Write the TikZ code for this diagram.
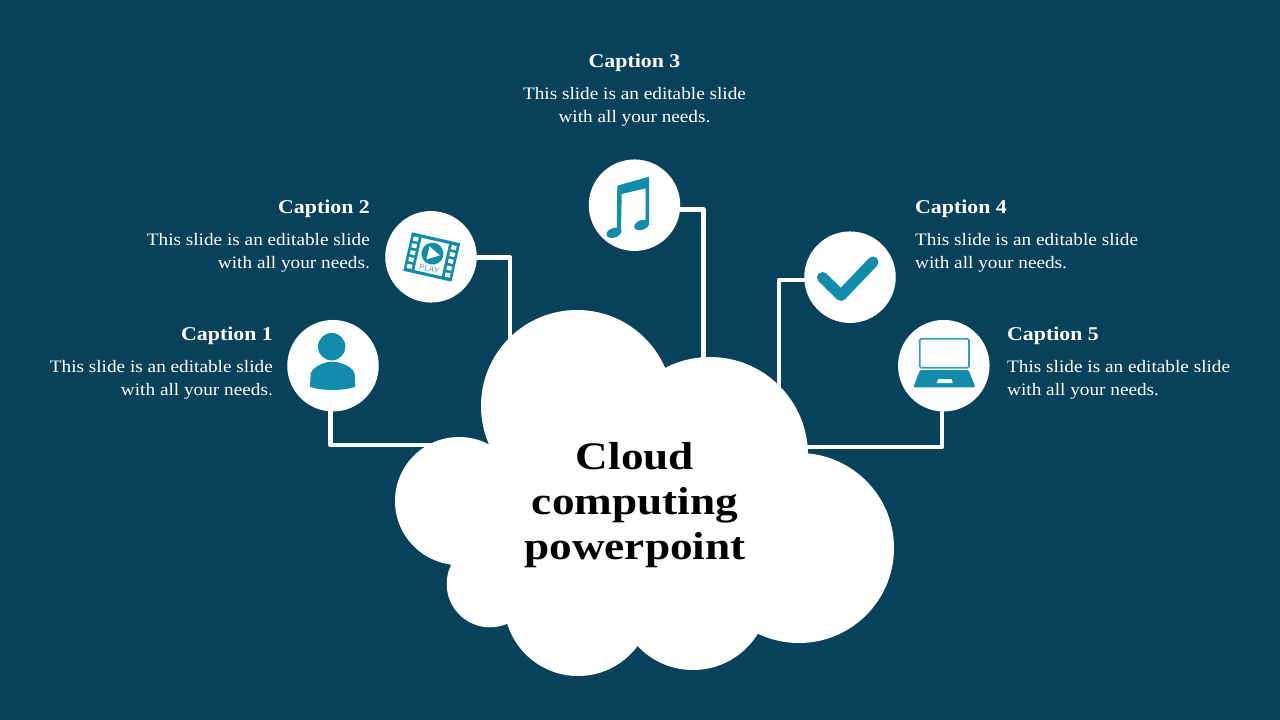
\documentclass[tikz,border=0pt]{standalone}
\usepackage{fontspec}
\setmainfont{Liberation Serif}
\newfontfamily\bodyfont[FakeStretch=1.1]{Liberation Serif}
\newfontfamily\headfont[FakeStretch=1.12]{Liberation Serif}
\newfontfamily\titlefont[FakeStretch=1.16]{Liberation Serif}
\definecolor{bgc}{HTML}{08415A}
\definecolor{icon}{HTML}{118CAB}
\tikzset{
  disc/.style={circle,fill=white,draw=none,minimum size=91.5pt,inner sep=0pt},
  wire/.style={draw=white,line width=4.5pt,line join=round},
  captionhead/.style={text=white,inner sep=0pt,font=\headfont\bfseries\fontsize{19.5}{22}\selectfont},
  captionbody/.style={text=white,inner sep=0pt,font=\bodyfont\fontsize{17.5}{22.3}\selectfont},
  puff/.style={fill=white,draw=none},
  iconfill/.style={fill=icon,draw=none},
}
\begin{document}
\begin{tikzpicture}[x=1pt,y=-1pt]
\useasboundingbox (0,0) rectangle (1280,720);
\fill[bgc] (0,0) rectangle (1280,720);
% connector ends, hidden behind the cloud
\coordinate (e1) at (445,445);
\coordinate (e2) at (510,350);
\coordinate (e3) at (703.3,370);
\coordinate (e4) at (779,395);
\coordinate (e5) at (800,447);
\coordinate (k1) at (330.7,445);
\coordinate (k2) at (510,257.5);
\coordinate (k3) at (703.3,209.5);
\coordinate (k4) at (779,280);
\coordinate (k5) at (942,447);
\coordinate (s1) at (330.7,365.7);
\coordinate (s5) at (942,365.7);
\draw[wire] (s1) -- (k1) -- (e1);
\draw[wire] (431,257.5) -- (k2) -- (e2);
\draw[wire] (634.5,209.5) -- (k3) -- (e3);
\draw[wire] (850,280) -- (k4) -- (e4);
\draw[wire] (s5) -- (k5) -- (e5);
% icon discs
\node[disc] (c1) at (333,365.7) {};
\node[disc] (c2) at (431,256.8) {};
\node[disc] (c3) at (634.5,205.2) {};
\node[disc] (c4) at (850,277.2) {};
\node[disc] (c5) at (943.8,365.7) {};
% cloud
\fill[puff] (577,406) circle (96);
\fill[puff] (710,455) circle (98);
\fill[puff] (799,548) circle (95);
\fill[puff] (459,501) circle (64);
\fill[puff] (490,584) circle (43.3);
\fill[puff] (578,602) circle (74);
\fill[puff] (693,594) circle (76);
\fill[puff] (665,372) -- (488.7,444) -- (450.3,565) -- (506,624) -- (637,645) -- (757,634) -- (808,455) -- cycle;
\node[inner sep=0pt,align=center,text=black,font=\titlefont\bfseries\fontsize{39}{45}\selectfont] (title) at (635,505.5) {Cloud\\computing\\powerpoint};
% person
\fill[icon] (331.7,346.7) circle (13.7);
\fill[iconfill] (310,386.7) -- (310.7,374) .. controls (311.5,368) and (323,361.7) .. (332,361.7) .. controls (342,361.7) and (354,368) .. (354.7,374) -- (355.3,386.7) .. controls (345,391) and (320,391) .. (310,386.7) -- cycle;
% film
\begin{scope}[shift={(431.7,257)},rotate=-12.8]
  \fill[icon] (-24.7,-19.7) rectangle (24.7,19.7);
  \fill[white] (-14,-16.5) rectangle (14,16.5);
  \foreach \yy in {-14,-7,0,7,14}{
    \fill[white] (-22,\yy-2.1) rectangle (-17,\yy+2.1);
    \fill[white] (17,\yy-2.1) rectangle (22,\yy+2.1);
  }
  \fill[icon] (0,-3.4) circle (11);
  \fill[white] (-4.5,-9.8) -- (7.5,-3.4) -- (-4.5,3.5) -- cycle;
  \node[inner sep=0pt,text=icon!85,rotate=-12.8,font=\sffamily\fontsize{8}{9}\selectfont] (playtext) at (0.2,12) {PLAY};
\end{scope}
% music
\fill[iconfill] (617.3,185.7) -- (649,176.7) -- (649,224) -- (645.7,224) -- (645.7,188.3) -- (621.7,194) -- (621,232) -- (616.7,232) -- cycle;
\fill[icon] (614,232.7) ellipse [x radius=7.8,y radius=4.8,rotate=20];
\fill[icon] (641.7,225) ellipse [x radius=7.8,y radius=4.8,rotate=20];
% check
\draw[icon,line width=11pt,line cap=round,line join=round] (822.5,277.5) -- (841,295.5) -- (873,262);
% laptop
\draw[draw=icon!85,fill=white,line width=1.6pt,rounded corners=1.5pt] (919.7,338.7) rectangle (969,367.7);
\fill[iconfill,rounded corners=1.2pt] (920,370) -- (968.5,370) -- (975.3,387.3) -- (913.3,387.3) -- cycle;
\fill[white] (938.3,379) -- (951.7,379) -- (952.7,383) -- (936.7,383) -- cycle;
% captions
\node[captionhead,anchor=east] (h1) at (273,336) {Caption 1};
\node[captionbody,anchor=north east,align=right] (b1) at (273,360.5) {This slide is an editable slide\\with all your needs.};
\node[captionhead,anchor=east] (h2) at (370,209) {Caption 2};
\node[captionbody,anchor=north east,align=right] (b2) at (370,233.5) {This slide is an editable slide\\with all your needs.};
\node[captionhead] (h3) at (634.5,63) {Caption 3};
\node[captionbody,anchor=north,align=center] (b3) at (634.5,87.5) {This slide is an editable slide\\with all your needs.};
\node[captionhead,anchor=west] (h4) at (915,209) {Caption 4};
\node[captionbody,anchor=north west,align=left] (b4) at (915,233.5) {This slide is an editable slide\\with all your needs.};
\node[captionhead,anchor=west] (h5) at (1007,336) {Caption 5};
\node[captionbody,anchor=north west,align=left] (b5) at (1007,360.5) {This slide is an editable slide\\with all your needs.};
\end{tikzpicture}
\end{document}
